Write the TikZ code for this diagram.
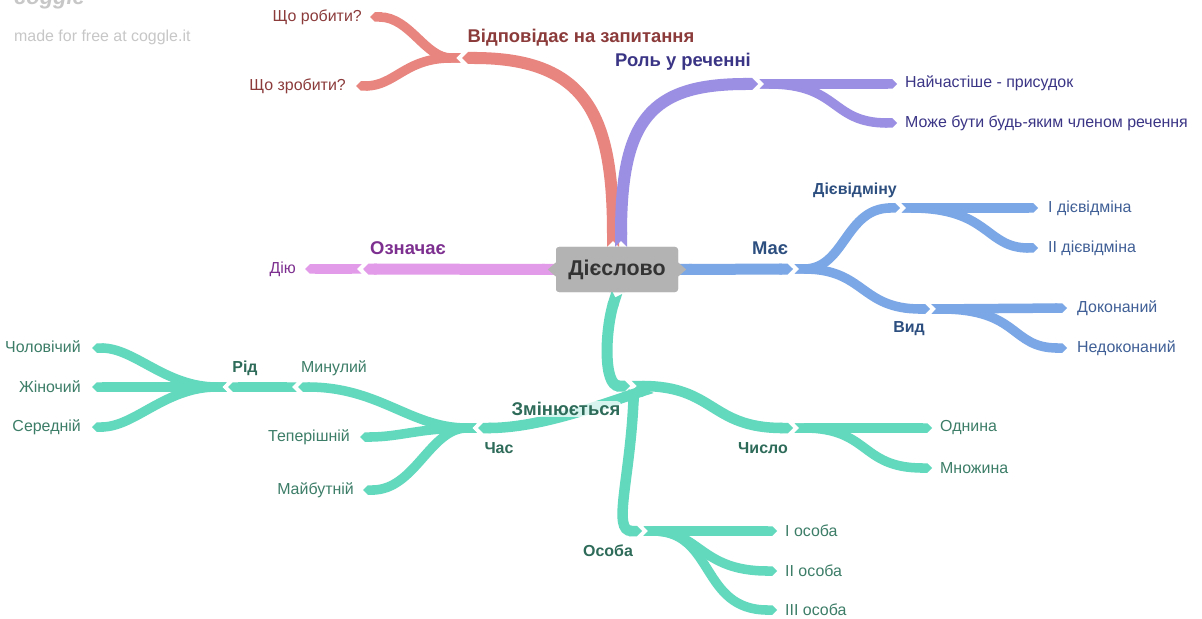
\documentclass[tikz,border=0pt]{standalone}
\usepackage{fontspec}
\setmainfont{Liberation Sans}
\usetikzlibrary{arrows.meta}

% branch colours
\definecolor{redline}{HTML}{E8857F}
\definecolor{purpline}{HTML}{9A8FE3}
\definecolor{pinkline}{HTML}{E29BE8}
\definecolor{blueline}{HTML}{7BA7E6}
\definecolor{tealline}{HTML}{62D8BD}
% text colours
\definecolor{redtxt}{HTML}{8C3B3B}
\definecolor{purptxt}{HTML}{3B3586}
\definecolor{pinktxt}{HTML}{7E3090}
\definecolor{bluetxt}{HTML}{2D4F80}
\definecolor{blueleaf}{HTML}{3F5F96}
\definecolor{tealtxt}{HTML}{2E6B59}
\definecolor{tealleaf}{HTML}{3C7D68}
\definecolor{rootgray}{HTML}{B3B3B3}

\begin{document}
\begin{tikzpicture}[x=1bp,y=-1bp,
  br/.style={line width=#1, {Triangle Cap[reversed]}-{Triangle Cap}},
  br/.default=9.5bp,
  sub/.style={shorten <=1.5bp},
  lbl/.style={font=\bfseries\fontsize{18.5}{22}\selectfont, inner sep=1bp},
  lbltwo/.style={font=\bfseries\fontsize{16}{19}\selectfont, inner sep=1bp},
  leaf/.style={font=\fontsize{16}{19}\selectfont, inner sep=0bp},
  rootbox/.style={fill=rootgray, rounded corners=3bp, minimum width=122bp,
    minimum height=45bp, inner sep=0bp, text=black!80,
    font=\bfseries\fontsize{21.5}{25}\selectfont},
  halo/.style={fill=white, fill opacity=0.75, text opacity=1, rounded corners=4bp}
]
\useasboundingbox (0,0) rectangle (1202,619);
\fill[white] (0,0) rectangle (1202,619);

% watermark
\node[anchor=base west, text=black!22, font=\bfseries\itshape\fontsize{22}{26}\selectfont, inner sep=0] (logo) at (14,5) {coggle};
\node[anchor=west, text=black!22, font=\fontsize{16}{19}\selectfont, inner sep=0] (credit) at (14,37) {made for free at coggle.it};

% central node (placed first so branches can refer to it)
\node[rootbox] (root) at (617,269.5) {\phantom{Дієслово}};

% ---------- branch points ----------
\coordinate (ask) at (462,58);
\coordinate (q1) at (370,17);
\coordinate (q2) at (356,86);

\coordinate (role) at (758,84);
\coordinate (r1) at (897,84);
\coordinate (r2) at (897,123);

\coordinate (means) at (363,269);
\coordinate (act) at (305,269);

\coordinate (has) at (793,269);
\coordinate (conj) at (900,208);
\coordinate (c1) at (1038,208);
\coordinate (c2) at (1038,248);
\coordinate (aspect) at (930,309);
\coordinate (a1) at (1067,308);
\coordinate (a2) at (1067,348);

\coordinate (hub) at (630,386);
\coordinate (number) at (793,428);
\coordinate (n1) at (932,428);
\coordinate (n2) at (932,468);
\coordinate (person) at (642,531);
\coordinate (s1) at (777,531);
\coordinate (s2) at (777,571);
\coordinate (s3) at (777,610);
\coordinate (time) at (478,428);
\coordinate (past) at (298,387);
\coordinate (pres) at (360,437);
\coordinate (fut) at (363,490);
\coordinate (gender) at (228,387);
\coordinate (g1) at (92,348);
\coordinate (g2) at (92,387);
\coordinate (g3) at (92,427);

% ---------- red branch ----------
\draw[redline, br=12bp] ([xshift=-4bp]root.north) .. controls (613,120) and (590,58) .. (ask);
\draw[redline, br, sub] (ask) .. controls (425,58) and (410,17) .. (q1);
\draw[redline, br, sub] (ask) .. controls (405,58) and (395,86) .. (q2);

% ---------- purple branch ----------
\draw[purpline, br=12bp] ([xshift=4bp]root.north) .. controls (621,120) and (650,84) .. (role);
\draw[purpline, br, sub] (role) -- (r1);
\draw[purpline, br, sub] (role) .. controls (840,84) and (830,123) .. (r2);

% ---------- pink branch ----------
\draw[pinkline, br=11bp] (root.west) -- (means);
\draw[pinkline, br, sub] (means) -- (act);

% ---------- blue branch ----------
\draw[blueline, br=11bp] (root.east) -- (has);
\draw[blueline, br, sub] (has) .. controls (845,269) and (845,208) .. (conj);
\draw[blueline, br, sub] (has) .. controls (865,269) and (860,309) .. (aspect);
\draw[blueline, br, sub] (conj) -- (c1);
\draw[blueline, br, sub] (conj) .. controls (990,208) and (985,248) .. (c2);
\draw[blueline, br, sub] (aspect) -- (a1);
\draw[blueline, br, sub] (aspect) .. controls (1020,309) and (1010,348) .. (a2);

% ---------- teal branch ----------
\draw[tealline, br=11bp] (root.south) .. controls (605,330) and (603,386) .. (hub);
\draw[tealline, br=10.5bp, sub] (hub) .. controls (715,386) and (710,428) .. (number);
\draw[tealline, br=10.5bp] ([shift={(4,3)}]hub) .. controls (630,480) and (612,531) .. (person);
\draw[tealline, br=10.5bp] ([shift={(22,2)}]hub) .. controls (600,405) and (540,428) .. (time);
\draw[tealline, br, sub] (number) -- (n1);
\draw[tealline, br, sub] (number) .. controls (870,428) and (860,468) .. (n2);
\draw[tealline, br, sub] (person) -- (s1);
\draw[tealline, br, sub] (person) .. controls (700,531) and (700,571) .. (s2);
\draw[tealline, br, sub] (person) .. controls (715,531) and (700,610) .. (s3);
\draw[tealline, br, sub] (time) .. controls (410,428) and (380,387) .. (past);
\draw[tealline, br, sub] (time) .. controls (420,428) and (400,437) .. (pres);
\draw[tealline, br, sub] (time) .. controls (430,428) and (415,490) .. (fut);
\draw[tealline, br, sub] (past) -- (gender);
\draw[tealline, br, sub] (gender) .. controls (165,387) and (135,348) .. (g1);
\draw[tealline, br, sub] (gender) -- (g2);
\draw[tealline, br, sub] (gender) .. controls (165,387) and (135,427) .. (g3);

% ---------- central box with its four points ----------
\fill[rootgray] ([xshift=-8bp]root.north) -- ([yshift=-9bp]root.north) -- ([xshift=8bp]root.north) -- cycle;
\fill[rootgray] ([xshift=-8bp]root.south) -- ([yshift=9bp]root.south) -- ([xshift=8bp]root.south) -- cycle;
\fill[rootgray] ([yshift=-7bp]root.west) -- ([xshift=-8bp]root.west) -- ([yshift=7bp]root.west) -- cycle;
\fill[rootgray] ([yshift=-7bp]root.east) -- ([xshift=8bp]root.east) -- ([yshift=7bp]root.east) -- cycle;
\node[rootbox] (rootlabel) at (root.center) {Дієслово};

% ---------- labels ----------
\node[lbl, text=redtxt] (askL) at (581,38) {Відповідає на запитання};
\node[leaf, text=redtxt, anchor=east] (q1L) at (362,17) {Що робити?};
\node[leaf, text=redtxt, anchor=east] (q2L) at (346,86) {Що зробити?};

\node[lbl, text=purptxt] (roleL) at (683,62) {Роль у реченні};
\node[leaf, text=purptxt, anchor=west] (r1L) at (905,83) {Найчастіше - присудок};
\node[leaf, text=purptxt, anchor=west] (r2L) at (905,123) {Може бути будь-яким членом речення};

\node[lbl, text=pinktxt] (meansL) at (408,248) {Означає};
\node[leaf, text=pinktxt, anchor=east] (actL) at (296,269) {Дію};

\node[lbl, text=bluetxt] (hasL) at (770,248) {Має};
\node[lbltwo, text=bluetxt] (conjL) at (855,190) {Дієвідміну};
\node[lbltwo, text=bluetxt] (aspectL) at (909,329) {Вид};
\node[leaf, text=blueleaf, anchor=west] (c1L) at (1048,208) {I дієвідміна};
\node[leaf, text=blueleaf, anchor=west] (c2L) at (1048,248) {II дієвідміна};
\node[leaf, text=blueleaf, anchor=west] (a1L) at (1077,308) {Доконаний};
\node[leaf, text=blueleaf, anchor=west] (a2L) at (1077,348) {Недоконаний};

\node[lbl, text=tealtxt, halo] (hubL) at (566,409) {Змінюється};
\node[lbltwo, text=tealtxt] (numberL) at (763,448) {Число};
\node[lbltwo, text=tealtxt] (personL) at (608,551) {Особа};
\node[lbltwo, text=tealtxt] (timeL) at (499,448) {Час};
\node[lbltwo, text=tealtxt] (genderL) at (245,368) {Рід};
\node[leaf, text=tealleaf] (pastL) at (334,368) {Минулий};
\node[leaf, text=tealleaf, anchor=west] (n1L) at (940,428) {Однина};
\node[leaf, text=tealleaf, anchor=west] (n2L) at (940,468) {Множина};
\node[leaf, text=tealleaf, anchor=west] (s1L) at (785,531) {I особа};
\node[leaf, text=tealleaf, anchor=west] (s2L) at (785,571) {II особа};
\node[leaf, text=tealleaf, anchor=west] (s3L) at (785,610) {III особа};
\node[leaf, text=tealleaf, anchor=east] (presL) at (350,437) {Теперішній};
\node[leaf, text=tealleaf, anchor=east] (futL) at (354,490) {Майбутній};
\node[leaf, text=tealleaf, anchor=east] (g1L) at (81,347) {Чоловічий};
\node[leaf, text=tealleaf, anchor=east] (g2L) at (81,387) {Жіночий};
\node[leaf, text=tealleaf, anchor=east] (g3L) at (81,427) {Середній};
\end{tikzpicture}
\end{document}
